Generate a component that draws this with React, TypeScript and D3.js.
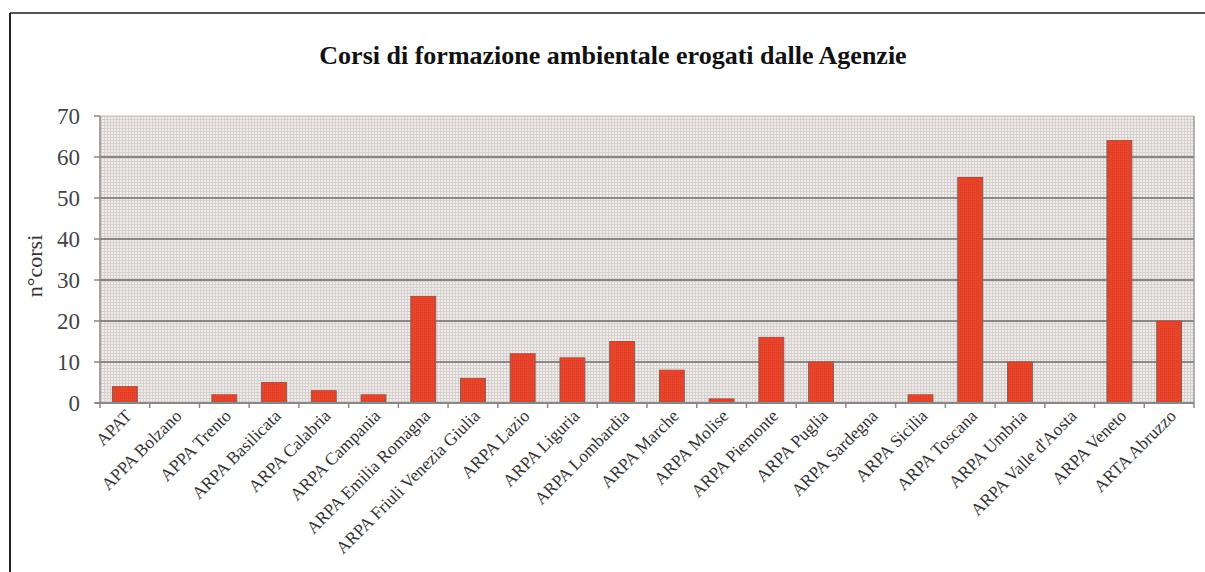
import React from "react";
import * as d3 from "d3";

const categories = [
  "APAT", "APPA Bolzano", "APPA Trento", "ARPA Basilicata", "ARPA Calabria",
  "ARPA Campania", "ARPA Emilia Romagna", "ARPA Friuli Venezia Giulia", "ARPA Lazio",
  "ARPA Liguria", "ARPA Lombardia", "ARPA Marche", "ARPA Molise", "ARPA Piemonte",
  "ARPA Puglia", "ARPA Sardegna", "ARPA Sicilia", "ARPA Toscana", "ARPA Umbria",
  "ARPA Valle d'Aosta", "ARPA Veneto", "ARTA Abruzzo",
];
const values = [4, 0, 2, 5, 3, 2, 26, 6, 12, 11, 15, 8, 1, 16, 10, 0, 2, 55, 10, 0, 64, 20];
const yTicks = [0, 10, 20, 30, 40, 50, 60, 70];
const title = "Corsi di formazione ambientale erogati dalle Agenzie";
const yLabel = "n°corsi";

const W = 1205, H = 572;
const L = 100, R = 1194, T = 116, B = 403;

export default function App() {
  const x = d3.scaleBand<string>().domain(categories).range([L, R]).paddingInner(0.5).paddingOuter(0.25);
  const y = d3.scaleLinear().domain([0, 70]).range([B, T]);
  const step = x.step();
  const serif = "'Liberation Serif', 'Times New Roman', serif";
  return (
    <svg width={W} height={H} style={{ position: "absolute", left: 0, top: 0, background: "#fff" }}>
      <defs>
        <pattern id="bg" width="3" height="3" patternUnits="userSpaceOnUse">
          <rect width="3" height="3" fill="#d6d1cf" />
          <rect width="2" height="2" fill="#eeebea" />
        </pattern>
        <pattern id="barp" width="2" height="2" patternUnits="userSpaceOnUse">
          <rect width="2" height="2" fill="#e8462c" />
          <rect width="1" height="1" fill="#e23a22" />
        </pattern>
      </defs>
      {/* frame */}
      <line x1={10} y1={13} x2={W} y2={13} stroke="#555" strokeWidth={2} />
      <line x1={10} y1={13} x2={10} y2={H} stroke="#222" strokeWidth={2} />
      {/* title */}
      <text x={613} y={64} textAnchor="middle" fontFamily={serif} fontWeight="bold" fontSize={26} fill="#111">
        {title}
      </text>
      {/* plot background */}
      <rect x={L} y={T} width={R - L} height={B - T} fill="url(#bg)" />
      <line x1={L} y1={T} x2={R} y2={T} stroke="#c8c3c1" strokeWidth={1} />
      <line x1={R} y1={T} x2={R} y2={B} stroke="#a09c9a" strokeWidth={1.5} />
      {/* gridlines */}
      {yTicks.filter((t) => t > 0 && t < 70).map((t) => (
        <line key={t} x1={L} x2={R} y1={y(t)} y2={y(t)} stroke="#8c8787" strokeWidth={2} />
      ))}
      {/* bars */}
      {categories.map((c, i) =>
        values[i] > 0 ? (
          <rect key={c} x={x(c)!} y={y(values[i])} width={x.bandwidth()} height={B - y(values[i])}
            fill="url(#barp)" stroke="#8a5a50" strokeWidth={1} />
        ) : null
      )}
      {/* axes */}
      <line x1={L} y1={T} x2={L} y2={B} stroke="#8c8787" strokeWidth={1.5} />
      <line x1={L - 5} y1={B} x2={R} y2={B} stroke="#8c8787" strokeWidth={2} />
      {yTicks.map((t) => (
        <g key={t}>
          <line x1={L - 6} x2={L} y1={y(t)} y2={y(t)} stroke="#8c8787" strokeWidth={1.5} />
          <text x={80} y={y(t) + 7.5} textAnchor="end" fontFamily={serif} fontSize={23} fill="#444">
            {t}
          </text>
        </g>
      ))}
      {d3.range(categories.length + 1).map((k) => (
        <line key={k} x1={L + k * step} x2={L + k * step} y1={B} y2={B + 5} stroke="#8c8787" strokeWidth={1.5} />
      ))}
      {/* x labels */}
      {categories.map((c) => {
        const cx = x(c)! + x.bandwidth() / 2 + 8;
        const cy = 417;
        return (
          <text key={c} x={cx} y={cy} transform={`rotate(-45 ${cx} ${cy})`} textAnchor="end"
            fontFamily={serif} fontSize={17.5} fill="#333">
            {c}
          </text>
        );
      })}
      {/* y label */}
      <text x={0} y={0} transform={`translate(42 266) rotate(-90)`} textAnchor="middle"
        fontFamily={serif} fontSize={22} fill="#333">
        {yLabel}
      </text>
    </svg>
  );
}
